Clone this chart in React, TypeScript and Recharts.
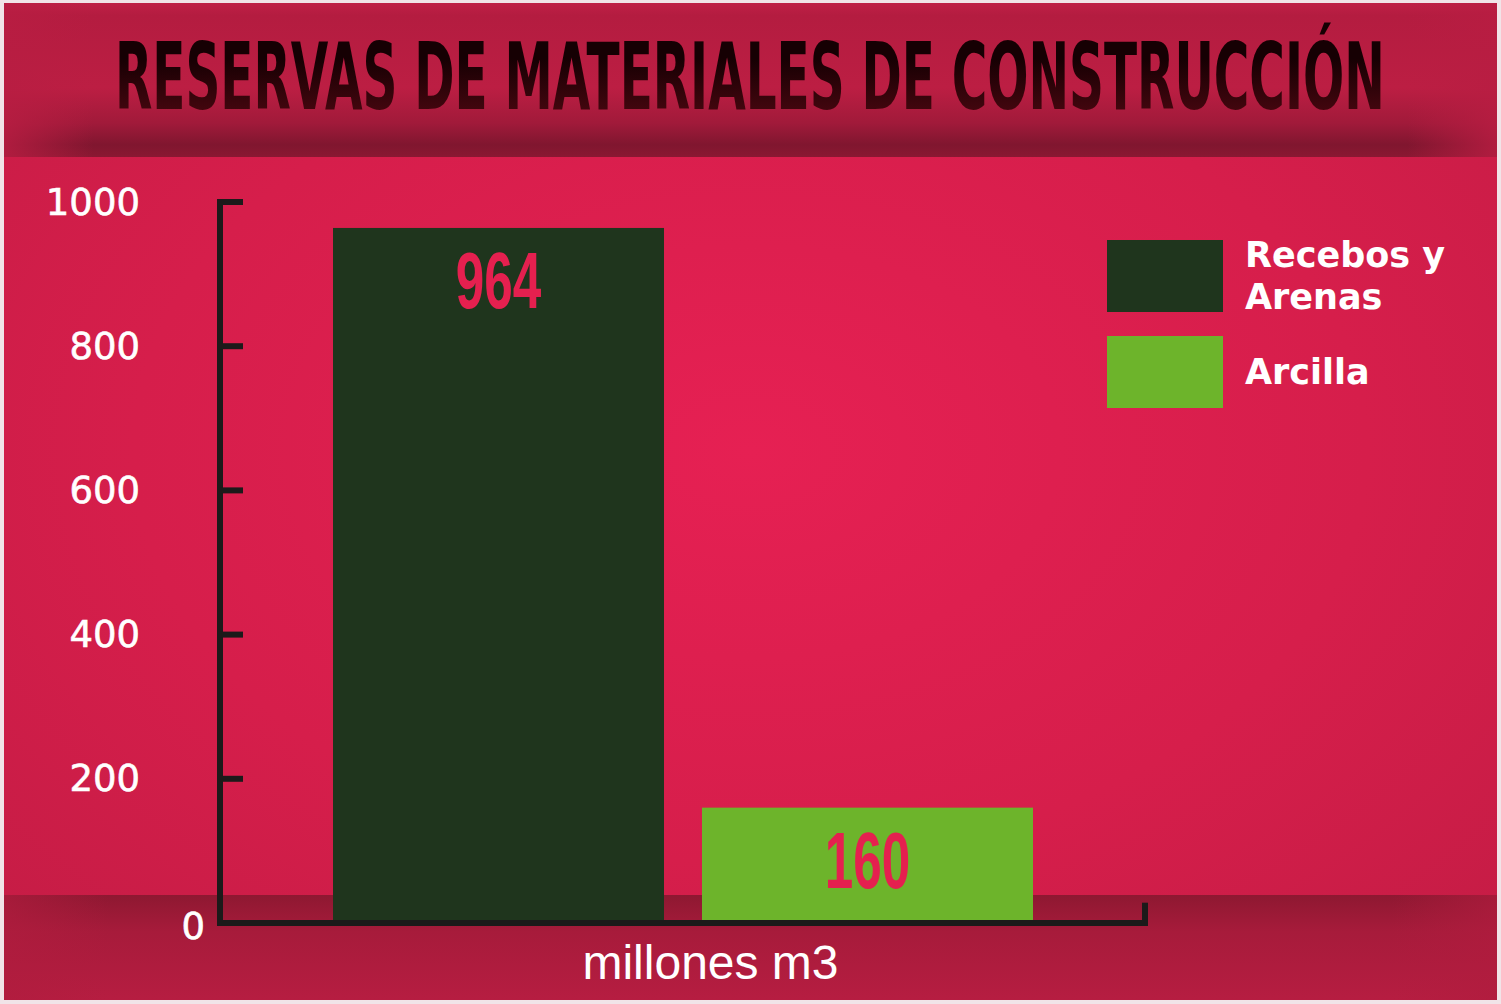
import React, { useLayoutEffect, useRef, useState } from 'react';
import { BarChart, Bar, XAxis, YAxis, Legend, LabelList, ReferenceLine } from 'recharts';

const categories = ['Reservas'];
const seriesNames = ['Recebos y Arenas', 'Arcilla'];
const recebosArenas = [964];
const arcilla = [160];
const yTicks = [0, 200, 400, 600, 800, 1000];
const endTickHeight = 24;
const title = 'RESERVAS DE MATERIALES DE CONSTRUCCIÓN';
const unitLabel = 'millones m3';

const data = categories.map((c, i) => ({ name: c, recebos: recebosArenas[i], arcilla: arcilla[i] }));

const AXIS = '#1c1a1a';

const LeftTick = (props: any) => {
  const { x, y, payload } = props;
  const isZero = payload.value === 0;
  return (
    <g>
      {!isZero && <line x1={x} x2={x + 23} y1={y} y2={y} stroke={AXIS} strokeWidth={6} />}
      <text
        x={isZero ? x - 15 : x - 80}
        y={isZero ? y + 3 : y}
        textAnchor="end"
        dominantBaseline="central"
        fill="#ffffff"
        stroke="#ffffff"
        strokeWidth={0.6}
        fontFamily="DejaVu Sans"
        fontSize={37}
      >
        {payload.value}
      </text>
    </g>
  );
};

const BarShape = (props: any) => {
  const { x, y, width, height, fill } = props;
  const h = Math.max(0, Number(height) - 3);
  return <rect x={x} y={y} width={width} height={h} fill={fill} />;
};

const ValueLabel = (props: any) => {
  const { x, y, width, value } = props;
  const cx = Number(x) + Number(width) / 2;
  const cy = Number(y) + 52;
  return (
    <text
      x={cx}
      y={cy}
      transform={`translate(${cx} ${cy}) scale(0.64 1) translate(${-cx} ${-cy})`}
      textAnchor="middle"
      dominantBaseline="central"
      fill="#e5204f"
      fontFamily="Liberation Sans"
      fontWeight="bold"
      fontSize={80}
    >
      {value}
    </text>
  );
};

const renderLegend = (props: any) => {
  const payload = [...(props.payload || [])].sort(
    (a: any, b: any) => seriesNames.indexOf(a.value) - seriesNames.indexOf(b.value)
  );
  return (
    <div>
      {payload.map((entry: any, i: number) => (
        <div key={i} style={{ display: 'flex', alignItems: 'center', height: 72, marginBottom: 24 }}>
          <div style={{ width: 116, height: 72, background: entry.color, flex: 'none' }} />
          <div
            style={{
              marginLeft: 22,
              color: '#ffffff',
              fontFamily: 'DejaVu Sans',
              fontWeight: 'bold',
              fontSize: 35,
              lineHeight: '42px',
              width: 230,
            }}
          >
            {entry.value}
          </div>
        </div>
      ))}
    </div>
  );
};

const Title = () => {
  const ref = useRef<HTMLSpanElement>(null);
  const [scale, setScale] = useState(0.53);
  useLayoutEffect(() => {
    if (ref.current) {
      const w = ref.current.offsetWidth;
      if (w > 0) setScale(1270 / w);
    }
  }, []);
  return (
    <div
      style={{
        position: 'absolute',
        left: 115,
        top: 8,
        transform: `scaleX(${scale})`,
        transformOrigin: '0 0',
        whiteSpace: 'nowrap',
      }}
    >
      <span
        ref={ref}
        style={{
          display: 'inline-block',
          paddingTop: 24,
          paddingBottom: 10,
          fontFamily: 'DejaVu Sans',
          fontWeight: 'bold',
          fontSize: 92,
          lineHeight: 1,
          color: '#2c0309',
          backgroundImage: 'linear-gradient(to bottom, #160003 40%, #4a0710 88%)',
          WebkitBackgroundClip: 'text',
          backgroundClip: 'text',
          WebkitTextFillColor: 'transparent',
        }}
      >
        {title}
      </span>
    </div>
  );
};

const Background = () => (
  <svg width={1501} height={1004} style={{ position: 'absolute', left: 0, top: 0 }}>
    <defs>
      <radialGradient id="mainBg" cx="0.5" cy="0.45" r="0.75">
        <stop offset="0%" stopColor="#e62053" />
        <stop offset="55%" stopColor="#d61e4b" />
        <stop offset="100%" stopColor="#c21c44" />
      </radialGradient>
      <linearGradient id="topBand" x1="0" y1="0" x2="0" y2="1">
        <stop offset="0%" stopColor="#bf2046" />
        <stop offset="8%" stopColor="#b41c40" />
        <stop offset="55%" stopColor="#bc1e43" />
        <stop offset="78%" stopColor="#a11a3a" />
        <stop offset="92%" stopColor="#80162f" />
        <stop offset="100%" stopColor="#8a1832" />
      </linearGradient>
      <linearGradient id="topBandEdges" x1="0" y1="0" x2="1" y2="0">
        <stop offset="0%" stopColor="#b81d42" stopOpacity={0.85} />
        <stop offset="6%" stopColor="#b81d42" stopOpacity={0} />
        <stop offset="94%" stopColor="#b81d42" stopOpacity={0} />
        <stop offset="100%" stopColor="#b81d42" stopOpacity={0.85} />
      </linearGradient>
      <linearGradient id="bottomBand" x1="0" y1="0" x2="0" y2="1">
        <stop offset="0%" stopColor="#8e1831" />
        <stop offset="35%" stopColor="#a71b3b" />
        <stop offset="100%" stopColor="#b61d41" />
      </linearGradient>
      <linearGradient id="bottomBandEdges" x1="0" y1="0" x2="1" y2="0">
        <stop offset="0%" stopColor="#b01c3e" stopOpacity={0.7} />
        <stop offset="7%" stopColor="#b01c3e" stopOpacity={0} />
        <stop offset="93%" stopColor="#b01c3e" stopOpacity={0} />
        <stop offset="100%" stopColor="#b01c3e" stopOpacity={0.7} />
      </linearGradient>
    </defs>
    <rect x={0} y={0} width={1501} height={1004} fill="#f1e4e8" />
    <rect x={4} y={3} width={1493} height={997} fill="url(#mainBg)" />
    <rect x={4} y={3} width={1493} height={154} fill="url(#topBand)" />
    <rect x={4} y={3} width={1493} height={154} fill="url(#topBandEdges)" />
    <rect x={4} y={895} width={1493} height={105} fill="url(#bottomBand)" />
    <rect x={4} y={895} width={1493} height={105} fill="url(#bottomBandEdges)" />
  </svg>
);

export default function App() {
  return (
    <div style={{ position: 'absolute', left: 0, top: 0, width: 1501, height: 1004, overflow: 'hidden' }}>
      <Background />
      <Title />
      <div style={{ position: 'absolute', left: 0, top: 0 }}>
        <BarChart
          width={1501}
          height={1004}
          data={data}
          margin={{ top: 202, right: 356, bottom: 80, left: 219 }}
          barSize={331}
          barGap={38}
        >
          <XAxis
            dataKey="name"
            height={1}
            tick={false}
            tickLine={false}
            axisLine={{ stroke: AXIS, strokeWidth: 6, strokeLinecap: 'square' }}
            label={{
              value: unitLabel,
              position: 'bottom',
              offset: 21,
              dx: 28,
              fill: '#ffffff',
              fontSize: 48,
              fontFamily: 'Liberation Sans',
            }}
          />
          <YAxis
            width={1}
            domain={[0, 1000]}
            ticks={yTicks}
            tickSize={0}
            tickMargin={0}
            tickLine={false}
            interval={0}
            tick={<LeftTick />}
            axisLine={{ stroke: AXIS, strokeWidth: 6, strokeLinecap: 'square' }}
          />
          <Legend
            layout="vertical"
            align="center"
            verticalAlign="middle"
            wrapperStyle={{ left: 1107, top: 240, width: 400 }}
            content={renderLegend}
          />
          <Bar dataKey="recebos" name={seriesNames[0]} fill="#1f351d" shape={<BarShape />} isAnimationActive={false}>
            <LabelList dataKey="recebos" content={<ValueLabel />} />
          </Bar>
          <Bar dataKey="arcilla" name={seriesNames[1]} fill="#6db42b" shape={<BarShape />} isAnimationActive={false}>
            <LabelList dataKey="arcilla" content={<ValueLabel />} />
          </Bar>
          <ReferenceLine
            segment={[
              { x: categories[0], y: 0 },
              { x: categories[0], y: endTickHeight },
            ]}
            position="end"
            stroke={AXIS}
            strokeWidth={6}
            strokeLinecap="square"
            ifOverflow="visible"
          />
        </BarChart>
      </div>
    </div>
  );
}
